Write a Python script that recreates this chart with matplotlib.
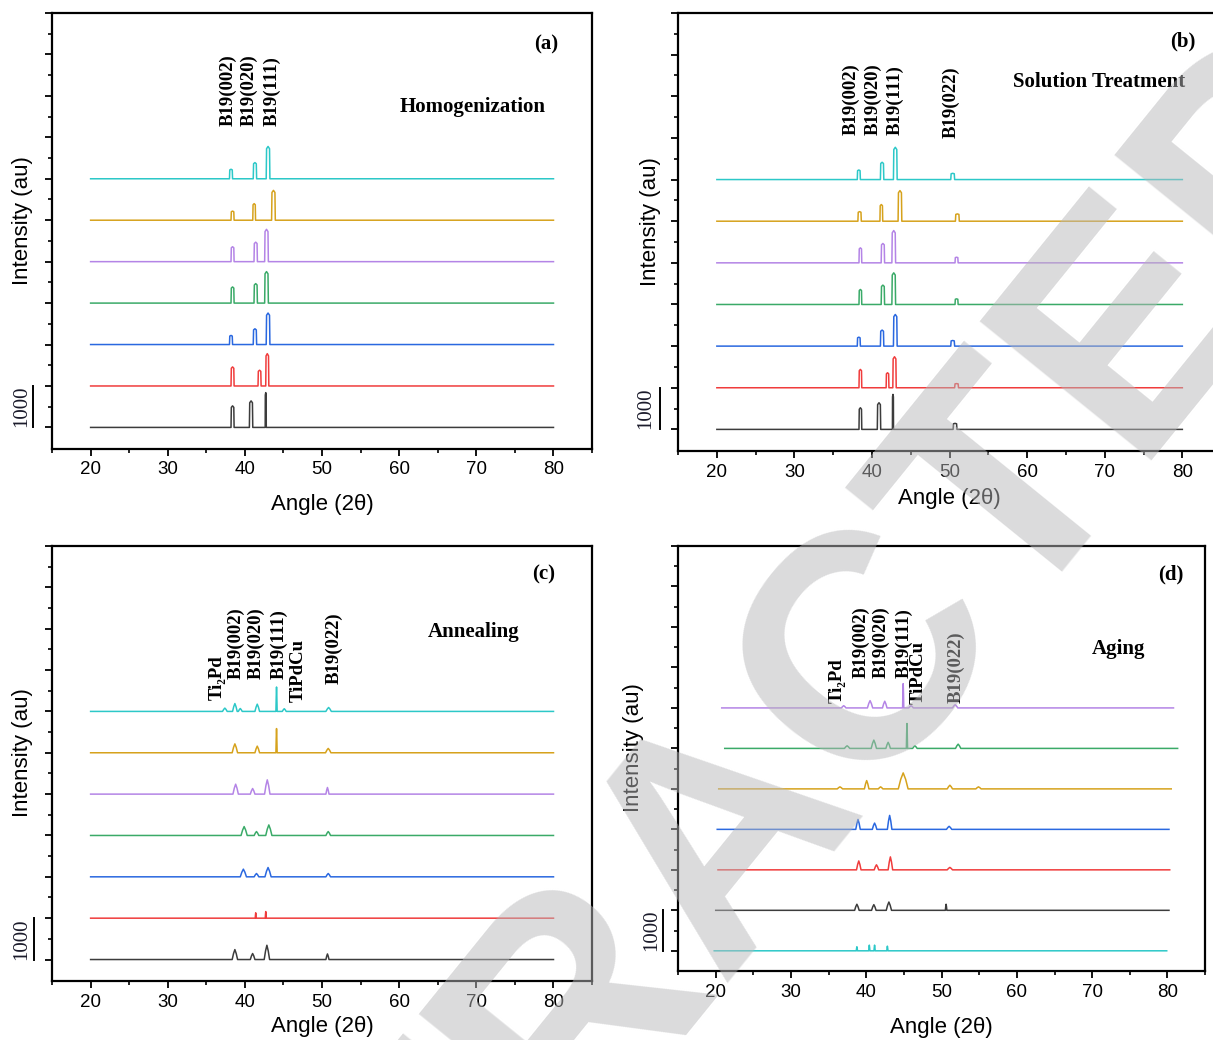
import matplotlib
matplotlib.use("Agg")
import matplotlib.pyplot as plt
import matplotlib.transforms as mtransforms

plt.rcParams['font.family'] = ['Liberation Sans', 'DejaVu Sans']

# trace colours, bottom -> top
colors_std = ['#3c3c3c', '#f03c3c', '#2a68e0', '#3aaa68', '#b484e6', '#d6a21c', '#2cc8c8']
colors_aging = ['#2cc8c8', '#3c3c3c', '#f03c3c', '#2a68e0', '#d6a21c', '#3aaa68', '#b484e6']

# (a) homogenization: peak angles, peak heights (counts above baseline), half widths
hom_pos = [[38.4, 40.8, 42.7], [38.4, 41.9, 42.9], [38.2, 41.3, 43.0], [38.4, 41.4, 42.8],
           [38.4, 41.4, 42.8], [38.4, 41.2, 43.7], [38.2, 41.3, 43.0]]
hom_int = [[520, 640, 840], [460, 380, 780], [220, 380, 760], [390, 470, 760],
           [360, 470, 780], [220, 400, 720], [230, 390, 780]]
hom_wid = [[0.2, 0.22, 0.07], [0.2, 0.2, 0.2], [0.2, 0.22, 0.24], [0.2, 0.22, 0.24],
           [0.2, 0.22, 0.24], [0.2, 0.18, 0.24], [0.2, 0.22, 0.24]]

# (b) solution treatment
sol_pos = [[38.5, 40.9, 42.7, 50.7], [38.5, 42.0, 42.9, 50.9], [38.3, 41.3, 43.0, 50.4],
           [38.5, 41.4, 42.8, 50.9], [38.5, 41.4, 42.8, 50.9], [38.4, 41.2, 43.6, 51.0],
           [38.3, 41.3, 43.0, 50.4]]
sol_int = [[520, 640, 840, 145], [440, 360, 745, 100], [215, 385, 760, 135],
           [360, 465, 760, 135], [360, 465, 775, 135], [230, 400, 735, 175],
           [230, 415, 775, 150]]
sol_wid = [[0.18, 0.22, 0.07, 0.25], [0.18, 0.18, 0.22, 0.25], [0.2, 0.22, 0.24, 0.25],
           [0.18, 0.22, 0.24, 0.2], [0.18, 0.22, 0.24, 0.2], [0.22, 0.18, 0.24, 0.25],
           [0.2, 0.22, 0.24, 0.25]]

# (c) annealing
ann_pos = [[38.7, 41.0, 42.85, 50.7], [41.4, 42.7], [39.8, 41.5, 43.0, 50.8],
           [39.9, 41.5, 43.1, 50.8], [38.8, 41.0, 42.9, 50.7], [38.7, 41.6, 44.1, 50.8],
           [37.4, 38.7, 39.4, 41.6, 44.1, 45.1, 50.85]]
ann_int = [[240, 145, 345, 135], [130, 160], [185, 80, 225, 80], [215, 95, 255, 95],
           [240, 135, 345, 160], [215, 160, 585, 105], [80, 190, 70, 175, 590, 65, 95]]
ann_wid = [[0.35, 0.3, 0.35, 0.2], [0.06, 0.06], [0.4, 0.3, 0.4, 0.3], [0.4, 0.3, 0.4, 0.3],
           [0.35, 0.3, 0.35, 0.2], [0.35, 0.3, 0.08, 0.35], [0.3, 0.3, 0.25, 0.3, 0.08, 0.25, 0.35]]

# (d) aging (scan ranges differ slightly between samples)
age_pos = [[38.75, 40.4, 41.1, 42.8], [38.75, 41.0, 43.0, 50.6], [39.0, 41.35, 43.2, 51.1],
           [38.9, 41.1, 43.1, 51.0], [36.5, 40.05, 41.9, 44.9, 51.1, 54.9],
           [37.45, 41.0, 42.9, 45.4, 46.45, 52.2], [37.0, 40.5, 42.45, 44.9, 45.95, 51.8]]
age_int = [[100, 140, 140, 115], [150, 140, 205, 150], [220, 125, 320, 60], [245, 155, 345, 75],
           [50, 205, 50, 395, 90, 50], [65, 205, 150, 615, 65, 105], [55, 180, 165, 600, 55, 80]]
age_wid = [[0.08, 0.08, 0.08, 0.08], [0.3, 0.3, 0.35, 0.1], [0.3, 0.3, 0.3, 0.35],
           [0.3, 0.3, 0.3, 0.35], [0.35, 0.3, 0.3, 0.65, 0.35, 0.35],
           [0.35, 0.35, 0.3, 0.08, 0.3, 0.35], [0.3, 0.35, 0.3, 0.08, 0.3, 0.35]]
age_start = [19.8, 20.0, 20.3, 20.2, 20.4, 21.2, 20.8]
age_end = [79.9, 80.2, 80.3, 80.2, 80.5, 81.35, 80.8]

offset = 1000

# reflection labels: text, angle, bottom of label (counts)
hom_labels = [('B19(002)', 37.8, 7280), ('B19(020)', 40.6, 7280), ('B19(111)', 43.5, 7280)]
sol_labels = [('B19(002)', 37.3, 7070), ('B19(020)', 40.1, 7070), ('B19(111)', 42.95, 7070),
              ('B19(022)', 50.2, 7000)]
ann_labels = [('Ti₂Pd', 36.4, 6270), ('B19(002)', 38.8, 6780), ('B19(020)', 41.4, 6780),
              ('B19(111)', 44.4, 6780), ('TiPdCu', 46.9, 6220), ('B19(022)', 51.6, 6660)]
age_labels = [('Ti₂Pd', 36.2, 6120), ('B19(002)', 39.3, 6730), ('B19(020)', 42.0, 6730),
              ('B19(111)', 45.0, 6730), ('TiPdCu', 46.95, 6090), ('B19(022)', 51.9, 6120)]

serif = ['Liberation Serif', 'DejaVu Serif']


def profile(pos, ints, wids, start=20.0, end=80.0, round_top=False):
    # boxy reflections for the sharp patterns, rounder ones for the broadened patterns
    if round_top:
        fx, fy = 0.5, 0.6
    else:
        fx, fy = 0.8, 0.93
    xs, ys = [start], [0]
    for p, h, w in sorted(zip(pos, ints, wids)):
        xs += [p - w, p - fx * w, p, p + fx * w, p + w]
        ys += [0, fy * h, h, fy * h, 0]
    xs.append(end)
    ys.append(0)
    return xs, ys


def setup_axes(ax, ylim_low, xlab_y, ylab_x, bar_x, num_x):
    ax.set_xlim(15, 85)
    ax.set_ylim(ylim_low, 10000)
    ax.set_xticks(range(20, 81, 10))
    ax.set_xticks(range(15, 86, 5), minor=True)
    ax.set_yticks(range(0, 10001, 1000))
    ax.set_yticks(range(500, 10000, 1000), minor=True)
    ax.set_yticklabels([])
    ax.tick_params(which='major', direction='out', length=5, width=1.3, labelsize=13.5, pad=4)
    ax.tick_params(which='minor', direction='out', length=3, width=1.2)
    for s in ax.spines.values():
        s.set_linewidth(1.6)
    ax.set_xlabel('Angle (2θ)', fontsize=16)
    ax.set_ylabel('Intensity (au)', fontsize=16)
    ax.xaxis.set_label_coords(0.5, xlab_y)
    ax.yaxis.set_label_coords(ylab_x, 0.525)
    # 1000-count scale bar
    tr = mtransforms.blended_transform_factory(ax.transAxes, ax.transData)
    ax.plot([bar_x, bar_x], [0, 1000], color='black', lw=1.4, transform=tr, clip_on=False)
    ax.text(num_x, 500, '1000', transform=tr, rotation=90, ha='center', va='center',
            fontsize=15, family=serif, color='#1a1a2a')


def draw_panel(ax, pos, ints, wids, colors, labels, starts=None, ends=None, round_top=False):
    for i in range(len(pos)):
        s = starts[i] if starts else 20.0
        e = ends[i] if ends else 80.0
        xs, ys = profile(pos[i], ints[i], wids[i], s, e, round_top)
        ax.plot(xs, [v + i * offset for v in ys], color=colors[i], lw=1.1)
    for txt, x, y in labels:
        ax.text(x, y, txt, rotation=90, ha='center', va='bottom', fontsize=13.5,
                fontweight='bold', family=serif)


fig = plt.figure(figsize=(12.13, 10.4), dpi=100)

ax_a = fig.add_axes([0.0429, 0.5683, 0.4452, 0.4192])
ax_b = fig.add_axes([0.5590, 0.5663, 0.4477, 0.4212])
ax_c = fig.add_axes([0.0429, 0.0567, 0.4452, 0.4183])
ax_d = fig.add_axes([0.5590, 0.0663, 0.4345, 0.4087])

draw_panel(ax_a, hom_pos, hom_int, hom_wid, colors_std, hom_labels)
setup_axes(ax_a, -520, -0.103, -0.035, -0.035, -0.056)
ax_a.text(69.5, 7735, 'Homogenization', ha='center', va='center', fontsize=15,
          fontweight='bold', family=serif)
ax_a.text(79.0, 9240, '(a)', ha='center', va='center', fontsize=15, fontweight='bold', family=serif)

draw_panel(ax_b, sol_pos, sol_int, sol_wid, colors_std, sol_labels)
setup_axes(ax_b, -520, -0.085, -0.031, -0.033, -0.059)
ax_b.text(69.3, 8350, 'Solution Treatment', ha='center', va='center', fontsize=15,
          fontweight='bold', family=serif)
ax_b.text(80.0, 9310, '(b)', ha='center', va='center', fontsize=15, fontweight='bold', family=serif)

draw_panel(ax_c, ann_pos, ann_int, ann_wid, colors_std, ann_labels, round_top=True)
setup_axes(ax_c, -520, -0.08, -0.035, -0.033, -0.057)
ax_c.text(69.6, 7920, 'Annealing', ha='center', va='center', fontsize=15,
          fontweight='bold', family=serif)
ax_c.text(78.7, 9300, '(c)', ha='center', va='center', fontsize=15, fontweight='bold', family=serif)

draw_panel(ax_d, age_pos, age_int, age_wid, colors_aging, age_labels, age_start, age_end,
           round_top=True)
setup_axes(ax_d, -500, -0.108, -0.065, -0.028, -0.051)
ax_d.text(73.5, 7445, 'Aging', ha='center', va='center', fontsize=15,
          fontweight='bold', family=serif)
ax_d.text(80.5, 9300, '(d)', ha='center', va='center', fontsize=15, fontweight='bold', family=serif)

# retraction stamp across the whole figure
fig.text(0.597, 0.202, 'RETRACTED', rotation=51, ha='center', va='center', fontsize=231,
         fontweight='bold', color=(0.72, 0.72, 0.73), alpha=0.5, zorder=10)

fig.savefig('out.png', dpi=100)
